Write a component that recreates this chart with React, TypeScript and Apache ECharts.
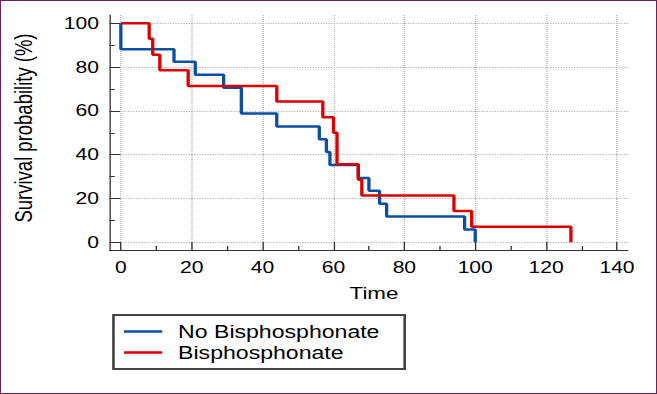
import React, { useEffect, useRef } from "react";
import * as echarts from "echarts";

// ---- data ----
const timeTicks = [0, 20, 40, 60, 80, 100, 120, 140];
const timeMinorTicks = [10, 30, 50, 70, 90, 110, 130];
const survTicks = [0, 20, 40, 60, 80, 100];
const survMinorTicks = [10, 30, 50, 70, 90];

const seriesNames = ["No Bisphosphonate", "Bisphosphonate"];
const noBisTime = [0, 0, 15, 21, 29, 34, 44, 56, 58, 59, 67, 70, 73, 75, 97, 100];
const noBisSurv = [100, 88.2, 82.4, 76.5, 70.6, 58.8, 52.9, 47.1, 41.2, 35.3, 29.4, 23.5, 17.6, 11.8, 5.9, 0];
const bisTime = [0, 8, 9, 11, 19, 44, 57, 60, 61, 67, 68, 94, 99, 127];
const bisSurv = [100, 92.9, 85.7, 78.6, 71.4, 64.3, 57.1, 50.0, 35.7, 28.6, 21.4, 14.3, 7.1, 0];

const FONT = "'Liberation Sans', Arial, sans-serif";
const PAGE_W = 657;
const PAGE_H = 394;
const CHART_W = 498;
const SX = PAGE_W / CHART_W;

export default function App() {
  const ref = useRef<HTMLDivElement>(null);

  useEffect(() => {
    if (!ref.current) return;
    const chart = echarts.init(ref.current, undefined, { renderer: "svg" });
    const axisColor = "#333";
    const gridLine = { show: true, lineStyle: { color: "#b4b4b4", type: "dotted" as const, width: 1 } };
    chart.setOption({
      animation: false,
      backgroundColor: "#fff",
      grid: { left: 83, right: 22, top: 15, bottom: 144, containLabel: false },
      xAxis: [
        {
          type: "value",
          min: -3.2,
          max: 143.1,
          splitNumber: 7,
          position: "bottom",
          name: "Time",
          nameLocation: "middle",
          nameGap: 34.5,
          nameTextStyle: { fontSize: 17, color: "#000", fontFamily: FONT, padding: [0, 0, 0, 8] },
          axisLine: { show: true, onZero: false, lineStyle: { color: axisColor, width: 1 } },
          axisTick: { show: true, inside: true, length: 8, customValues: timeTicks, lineStyle: { color: axisColor } },
          axisLabel: { customValues: timeTicks, margin: 9, fontSize: 16, color: "#000", fontFamily: FONT },
          splitLine: gridLine,
        },
        {
          type: "value",
          min: -3.2,
          max: 143.1,
          position: "bottom",
          axisLine: { show: false, onZero: false },
          axisTick: { show: true, inside: true, length: 4, customValues: timeMinorTicks, lineStyle: { color: axisColor } },
          axisLabel: { show: false },
          splitLine: { show: false },
        },
      ],
      yAxis: [
        {
          type: "value",
          min: -3.5,
          max: 103.8,
          splitNumber: 5,
          position: "left",
          name: "Survival probability (%)",
          nameLocation: "middle",
          nameGap: 56,
          nameTextStyle: { fontSize: 18.5, color: "#000", fontFamily: FONT, padding: [0, 0, 0, 9] },
          axisLine: { show: true, onZero: false, lineStyle: { color: axisColor, width: 1 } },
          axisTick: { show: true, inside: true, length: 8, customValues: survTicks, lineStyle: { color: axisColor } },
          axisLabel: { customValues: survTicks, margin: 8, fontSize: 16, color: "#000", fontFamily: FONT },
          splitLine: gridLine,
        },
        {
          type: "value",
          min: -3.5,
          max: 103.8,
          position: "left",
          axisLine: { show: false, onZero: false },
          axisTick: { show: true, inside: true, length: 4, customValues: survMinorTicks, lineStyle: { color: axisColor } },
          axisLabel: { show: false },
          splitLine: { show: false },
        },
      ],
      legend: {
        data: seriesNames.map((n) => ({ name: n, icon: "rect" })),
        orient: "vertical",
        left: 86,
        top: 315,
        itemWidth: 29,
        itemHeight: 2.5,
        itemGap: 0,
        padding: [6, 19, 6, 8],
        borderColor: "#444",
        borderWidth: 2,
        backgroundColor: "#fff",
        textStyle: { fontSize: 17.5, color: "#000", fontFamily: FONT, lineHeight: 21, padding: [0, 0, 0, 7] },
      },
      series: [
        {
          name: seriesNames[0],
          type: "line",
          step: "end",
          xAxisIndex: 0,
          yAxisIndex: 0,
          showSymbol: false,
          color: "#0b4fa3",
          lineStyle: { width: 2.5, color: "#0b4fa3" },
          data: noBisTime.map((t, i) => [t, noBisSurv[i]]),
        },
        {
          name: seriesNames[1],
          type: "line",
          step: "end",
          xAxisIndex: 0,
          yAxisIndex: 0,
          showSymbol: false,
          color: "#dc0000",
          lineStyle: { width: 2.5, color: "#dc0000" },
          data: bisTime.map((t, i) => [t, bisSurv[i]]),
        },
      ],
    });
    return () => chart.dispose();
  }, []);

  return (
    <div style={{ position: "fixed", left: 0, top: 0, width: PAGE_W, height: PAGE_H, background: "#fff", overflow: "hidden" }}>
      <div
        ref={ref}
        style={{
          position: "absolute",
          left: 0,
          top: 0,
          width: CHART_W,
          height: PAGE_H,
          transform: `scaleX(${SX})`,
          transformOrigin: "0 0",
        }}
      />
      <div
        style={{
          position: "absolute",
          left: 0,
          top: 0,
          width: PAGE_W,
          height: PAGE_H,
          boxSizing: "border-box",
          border: "1px solid #6b1f5f",
          pointerEvents: "none",
        }}
      />
    </div>
  );
}
